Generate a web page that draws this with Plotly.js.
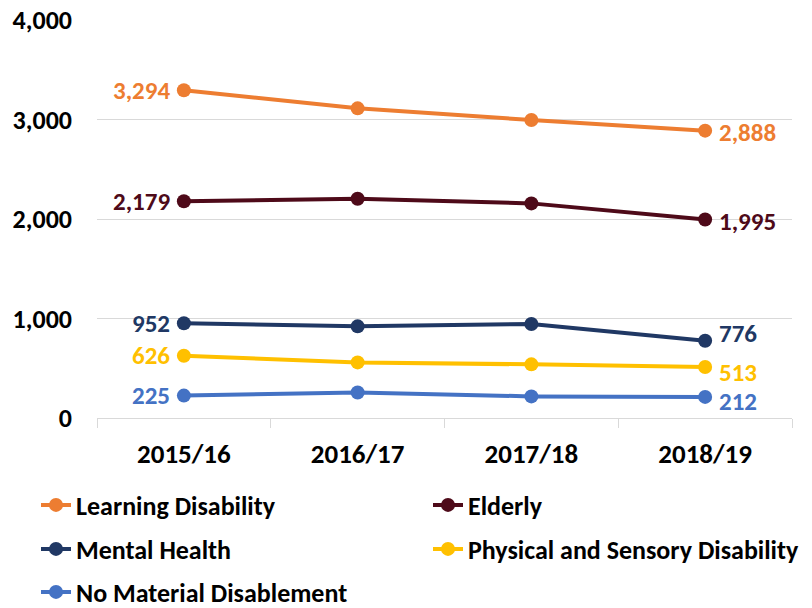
<!DOCTYPE html>
<html><head><meta charset="utf-8">
<script src="https://cdn.plot.ly/plotly-3.0.1.min.js"></script>
<style>html,body{margin:0;padding:0;background:#fff}</style>
</head><body>
<div id="chart" style="width:812px;height:608px"></div>
<script>
const years = ['2015/16','2016/17','2017/18','2018/19'];
const seriesNames = ['Learning Disability','Elderly','Mental Health','Physical and Sensory Disability','No Material Disablement'];
const learningDisability = [3294, 3112, 2995, 2888];
const elderly = [2179, 2204, 2157, 1995];
const mentalHealth = [952, 921, 945, 776];
const physicalSensory = [626, 559, 539, 513];
const noMaterial = [225, 257, 217, 212];
const yTickVals = [0, 1000, 2000, 3000, 4000];
const yTickText = ['0', '1,000', '2,000', '3,000', '4,000'];

const allValues = [learningDisability, elderly, mentalHealth, physicalSensory, noMaterial];
const colors = ['#ED7D31', '#4E0A19', '#203864', '#FFC000', '#4472C4'];
const legendIds = ['legend', 'legend', 'legend2', 'legend2', 'legend3'];
const labelShiftY = [[0, -2], [0, -2], [0, 7], [0, -6], [0, -5]];
const FONT = 'Carlito, Lato, "Liberation Sans", sans-serif';

const traces = allValues.map((vals, i) => ({
  type: 'scatter', mode: 'lines+markers', name: seriesNames[i],
  x: years, y: vals, legend: legendIds[i],
  line: {color: colors[i], width: 4},
  marker: {color: colors[i], size: 14},
  hoverinfo: 'skip', cliponaxis: false
}));

const fmt = v => v.toLocaleString('en-US');
const annotations = [];
allValues.forEach((vals, i) => {
  annotations.push({x: years[0], y: vals[0], text: fmt(vals[0]), showarrow: false,
    xanchor: 'right', xshift: -12, yshift: labelShiftY[i][0],
    font: {family: FONT, size: 25, color: colors[i], weight: 'bold'}});
  const n = vals.length - 1;
  annotations.push({x: years[n], y: vals[n], text: fmt(vals[n]), showarrow: false,
    xanchor: 'left', xshift: 12, yshift: labelShiftY[i][1],
    font: {family: FONT, size: 25, color: colors[i], weight: 'bold'}});
});

// plot area: x 97..792 (695 px), y 20..418 (398 px)
const legendBase = {orientation: 'h', xref: 'paper', yref: 'paper', x: (36 - 97) / 695,
  xanchor: 'left', yanchor: 'middle', entrywidth: 347, bgcolor: 'rgba(0,0,0,0)',
  font: {family: FONT, size: 26, color: '#000', weight: 'bold'}, traceorder: 'normal'};
const rowY = px => (418 - px) / 398;

const layout = {
  width: 812, height: 608,
  margin: {l: 97, r: 20, t: 20, b: 190, autoexpand: false},
  paper_bgcolor: '#fff', plot_bgcolor: '#fff',
  showlegend: true,
  legend: Object.assign({}, legendBase, {y: rowY(505)}),
  legend2: Object.assign({}, legendBase, {y: rowY(549)}),
  legend3: Object.assign({}, legendBase, {y: rowY(592)}),
  xaxis: {type: 'category', range: [-0.5, 3.5], tickson: 'boundaries', ticks: 'outside',
    ticklen: 9, tickcolor: '#d9d9d9', tickwidth: 1, showgrid: false,
    showline: true, linecolor: '#d9d9d9', linewidth: 1, zeroline: false,
    ticklabelstandoff: 12,
    tickfont: {family: FONT, size: 27, color: '#000', weight: 'bold'}},
  yaxis: {range: [0, 4000], tickvals: yTickVals, ticktext: yTickText,
    showgrid: true, gridcolor: '#d9d9d9', gridwidth: 1, zeroline: false,
    showline: false, ticks: '', ticklabelstandoff: 24,
    tickfont: {family: FONT, size: 26, color: '#000', weight: 'bold'}},
  annotations: annotations
};

Plotly.newPlot('chart', traces, layout, {staticPlot: true, displayModeBar: false});
</script>
</body></html>
